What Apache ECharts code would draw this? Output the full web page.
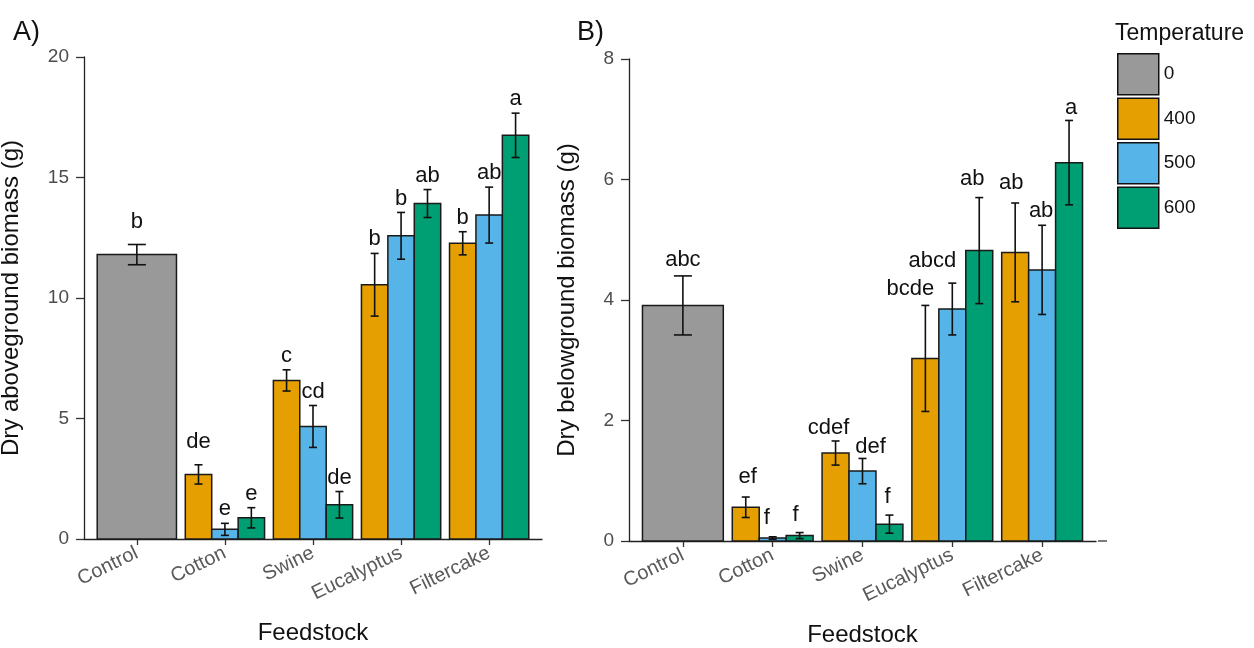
<!DOCTYPE html>
<html>
<head>
<meta charset="utf-8">
<title>Dry biomass by feedstock and pyrolysis temperature</title>
<script src="https://cdn.jsdelivr.net/npm/echarts@6/dist/echarts.min.js"></script>
<style>
  html, body { margin: 0; padding: 0; background: #fff; }
  #chart { width: 1254px; height: 648px; }
</style>
</head>
<body>
<div id="chart"></div>
<script>
// ---- data ----
const feedstocks = ['Control', 'Cotton', 'Swine', 'Eucalyptus', 'Filtercake'];
const temperatures = ['0', '400', '500', '600'];
// biochar feedstocks in order: Cotton, Swine, Eucalyptus, Filtercake

// A) Dry aboveground biomass (g), mean and standard error
const aboveControl = [11.80];
const aboveControlSE = [0.42];
const aboveControlLetters = ['b'];
const above400 = [2.68, 6.58, 10.55, 12.27];
const above500 = [0.40, 4.67, 12.58, 13.44];
const above600 = [0.88, 1.42, 13.92, 16.75];
const above400SE = [0.40, 0.44, 1.30, 0.48];
const above500SE = [0.25, 0.87, 0.97, 1.16];
const above600SE = [0.42, 0.55, 0.58, 0.92];
const above400Letters = ['de', 'c', 'b', 'b'];
const above500Letters = ['e', 'cd', 'b', 'ab'];
const above600Letters = ['e', 'de', 'ab', 'a'];

// B) Dry belowground biomass (g), mean and standard error
const belowControl = [3.91];
const belowControlSE = [0.49];
const belowControlLetters = ['abc'];
const below400 = [0.56, 1.46, 3.03, 4.79];
const below500 = [0.05, 1.16, 3.85, 4.50];
const below600 = [0.09, 0.28, 4.82, 6.28];
const below400SE = [0.17, 0.20, 0.88, 0.82];
const below500SE = [0.02, 0.21, 0.43, 0.74];
const below600SE = [0.05, 0.15, 0.88, 0.70];
const below400Letters = ['ef', 'cdef', 'bcde', 'ab'];
const below500Letters = ['f', 'def', 'abcd', 'ab'];
const below600Letters = ['f', 'f', 'ab', 'a'];

// ---- styling ----
const FONT = 'Liberation Sans, Arial, Helvetica, sans-serif';
const fillColors = ['#999999', '#E69F00', '#56B4E9', '#009E73'];
const dodge = [-0.3, 0, 0.3];
// per-label pixel nudges [dx, dy] for letters that sit off-centre
const letterNudgeA = { '0-0': [0, -9], '1-0': [0, -9] };
const letterNudgeB = {
  '1-0': [2, -4], '1-1': [-6, -3], '1-2': [-4, -2],
  '2-0': [-7, 3], '2-1': [8, 4], '2-2': [-2, -2],
  '3-0': [-15, 0], '3-1': [-20, -6], '3-2': [-7, -3],
  '4-0': [-4, -4], '4-1': [-1, 2], '4-2': [2, 3]
};

function panelItems(ctrl, ctrlSE, ctrlLetters, means, ses, letters, nudges) {
  const byTemp = [];
  byTemp.push([{ x: 1, w: 0.9, mean: ctrl[0], se: ctrlSE[0], letter: ctrlLetters[0],
    cap: 9, nudge: nudges['0-0'] || [0, 0] }]);
  for (let k = 0; k < 3; k++) {
    byTemp.push(means[k].map((m, i) => ({
      x: i + 2 + dodge[k], w: 0.3, mean: m, se: ses[k][i], letter: letters[k][i],
      cap: 4, nudge: nudges[(i + 1) + '-' + k] || [0, 0]
    })));
  }
  return byTemp;
}

const panelA = panelItems(aboveControl, aboveControlSE, aboveControlLetters,
  [above400, above500, above600], [above400SE, above500SE, above600SE],
  [above400Letters, above500Letters, above600Letters], letterNudgeA);
const panelB = panelItems(belowControl, belowControlSE, belowControlLetters,
  [below400, below500, below600], [below400SE, below500SE, below600SE],
  [below400Letters, below500Letters, below600Letters], letterNudgeB);

function makeRenderer(items, gap) {
  return function (params, api) {
    const it = items[params.dataIndex];
    const left = api.coord([it.x - it.w / 2, 0]);
    const right = api.coord([it.x + it.w / 2, it.mean]);
    const hi = api.coord([it.x, it.mean + it.se]);
    const lo = api.coord([it.x, Math.max(it.mean - it.se, 0)]);
    const ink = { stroke: '#111', lineWidth: 1.6, fill: null };
    return {
      type: 'group',
      children: [
        { type: 'rect',
          shape: { x: left[0], y: right[1], width: right[0] - left[0], height: left[1] - right[1] },
          style: { fill: api.visual('color'), stroke: '#1a1a1a', lineWidth: 1.5 } },
        { type: 'line', shape: { x1: hi[0], y1: hi[1], x2: lo[0], y2: lo[1] }, style: ink },
        { type: 'line', shape: { x1: hi[0] - it.cap, y1: hi[1], x2: hi[0] + it.cap, y2: hi[1] }, style: ink },
        { type: 'line', shape: { x1: lo[0] - it.cap, y1: lo[1], x2: lo[0] + it.cap, y2: lo[1] }, style: ink },
        { type: 'text',
          style: { text: it.letter, x: hi[0] + it.nudge[0], y: hi[1] - gap + it.nudge[1],
            align: 'center', verticalAlign: 'middle', fill: '#111',
            font: '22px ' + FONT } }
      ]
    };
  };
}

function seriesFor(panel, gridIdx, gap) {
  return panel.map((items, k) => ({
    type: 'custom',
    name: temperatures[k],
    xAxisIndex: gridIdx,
    yAxisIndex: gridIdx,
    clip: false,
    itemStyle: { color: fillColors[k] },
    encode: { x: 0, y: 1 },
    data: items.map(it => [it.x, it.mean + it.se]),
    renderItem: makeRenderer(items, gap)
  }));
}

function xAxisFor(gridIdx) {
  return {
    type: 'value', gridIndex: gridIdx, min: 0.4, max: 5.6,
    name: 'Feedstock', nameLocation: 'middle', nameGap: 82,
    nameTextStyle: { fontSize: 24, color: '#111', fontFamily: FONT },
    axisLine: { show: true, lineStyle: { color: '#222', width: 1.3 } },
    axisTick: { show: true, customValues: [1, 2, 3, 4, 5], length: 6,
      lineStyle: { color: '#333', width: 1.3 } },
    axisLabel: { customValues: [1, 2, 3, 4, 5], rotate: 26, margin: 13,
      fontSize: 20, color: '#5a5a5a', fontFamily: FONT,
      formatter: v => feedstocks[Math.round(v) - 1] },
    splitLine: { show: false }
  };
}

function yAxisFor(gridIdx, max, interval, name, nameGap) {
  return {
    type: 'value', gridIndex: gridIdx, min: 0, max: max, interval: interval,
    name: name, nameLocation: 'middle', nameRotate: 90, nameGap: nameGap,
    nameTextStyle: { fontSize: 24, color: '#111', fontFamily: FONT },
    axisLine: { show: true, lineStyle: { color: '#222', width: 1.3 } },
    axisTick: { show: true, length: 8, lineStyle: { color: '#333', width: 1.3 } },
    axisLabel: { margin: 15, fontSize: 19, color: '#4d4d4d', fontFamily: FONT },
    splitLine: { show: false }
  };
}

const chart = echarts.init(document.getElementById('chart'), null, { renderer: 'canvas' });
chart.setOption({
  backgroundColor: '#ffffff',
  animation: false,
  title: [
    { text: 'A)', left: 8, top: 14, textStyle: { fontSize: 27, fontWeight: 'normal', color: '#111', fontFamily: FONT } },
    { text: 'B)', left: 572, top: 14, textStyle: { fontSize: 27, fontWeight: 'normal', color: '#111', fontFamily: FONT } },
    { text: 'Temperature', left: 1110, top: 17, textStyle: { fontSize: 23, fontWeight: 'normal', color: '#111', fontFamily: FONT } }
  ],
  legend: {
    data: temperatures,
    orient: 'vertical', left: 1112, top: 48,
    itemWidth: 41, itemHeight: 41, itemGap: 2,
    icon: 'rect',
    itemStyle: { borderColor: '#111', borderWidth: 1.5 },
    textStyle: { fontSize: 19, color: '#111', fontFamily: FONT },
    selectedMode: false
  },
  grid: [
    { left: 84, right: 1254 - 542, top: 57, bottom: 648 - 539, outerBoundsMode: 'none' },
    { left: 629, right: 1254 - 1096, top: 59, bottom: 648 - 541, outerBoundsMode: 'none' }
  ],
  xAxis: [xAxisFor(0), xAxisFor(1)],
  yAxis: [
    yAxisFor(0, 20, 5, 'Dry aboveground biomass (g)', 61),
    yAxisFor(1, 8, 2, 'Dry belowground biomass (g)', 50)
  ],
  series: [...seriesFor(panelA, 0, 14), ...seriesFor(panelB, 1, 16)],
  graphic: [
    { type: 'line', shape: { x1: 1098, y1: 541, x2: 1107, y2: 541 },
      style: { stroke: '#333', lineWidth: 1.3 } }
  ]
});
</script>
</body>
</html>
